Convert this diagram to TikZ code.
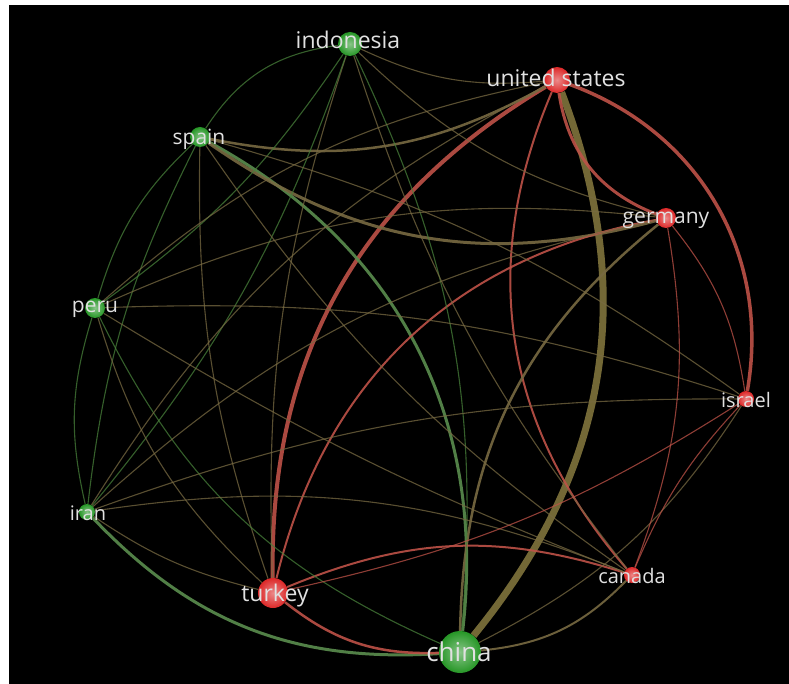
\documentclass[tikz,border=0pt]{standalone}
\usepackage{fontspec}
\setmainfont{Open Sans}
\definecolor{leaf}{RGB}{38,150,38}
\definecolor{ember}{RGB}{220,40,40}
\definecolor{gg}{RGB}{72,128,58}
\definecolor{rr}{RGB}{190,82,72}
\definecolor{gr}{RGB}{120,106,66}
\definecolor{trunk}{RGB}{128,116,60}
\definecolor{labeltext}{RGB}{225,225,225}
\pgfdeclarelayer{edges}
\pgfsetlayers{edges,main}

\begin{document}
\begin{tikzpicture}[x=1pt, y=-1pt,
    gnode/.style={circle, inner sep=0pt, minimum size=#1, inner color=leaf!55!white, outer color=leaf},
    rnode/.style={circle, inner sep=0pt, minimum size=#1, inner color=ember!55!white, outer color=ember},
    tag/.style={text=labeltext, inner sep=0pt, font=\fontsize{#1}{#1}\selectfont},
    wire/.style={line width=#1, opacity=0.9},
]
    \useasboundingbox (0, 0) rectangle (789, 684);

    % countries
    \node[gnode=24] (ind) at (350, 44) {};
    \node[rnode=26] (us) at (557, 80) {};
    \node[gnode=20] (spa) at (200, 137) {};
    \node[rnode=20] (ger) at (666, 218) {};
    \node[gnode=20] (per) at (95, 308) {};
    \node[rnode=16] (isr) at (746, 399) {};
    \node[gnode=16] (ira) at (87, 512) {};
    \node[rnode=30] (tur) at (273, 593) {};
    \node[rnode=16] (can) at (632, 575) {};
    \node[gnode=42] (chi) at (460, 652) {};

    \node[tag=23] (ind-t) at (348, 40) {indonesia};
    \node[tag=23] (us-t) at (556, 78) {united states};
    \node[tag=21] (spa-t) at (199, 139) {spain};
    \node[tag=21] (ger-t) at (666, 220) {germany};
    \node[tag=21] (per-t) at (95, 309) {peru};
    \node[tag=20] (isr-t) at (746, 400) {israel};
    \node[tag=20] (ira-t) at (88, 513) {iran};
    \node[tag=23] (tur-t) at (275, 596) {turkey};
    \node[tag=20] (can-t) at (632, 576) {canada};
    \node[tag=26] (chi-t) at (459, 652) {china};

    \begin{pgfonlayer}{edges}
        \fill[white] (0, 0) rectangle (789, 684);
        \fill[black] (9, 5) rectangle (789, 684);

        % heavy links
        \draw[wire=7, trunk] (us) to[bend left=30] (chi);
        \draw[wire=4, rr] (us) to[bend right=30] (tur);
        \draw[wire=3.5, rr] (us) to[bend left=40] (isr);
        \draw[wire=3, rr] (us) to[bend right=30] (ger);
        \draw[wire=3, gg!90!white] (spa) to[bend left=34] (chi);
        \draw[wire=3, gg!90!white] (ira) to[bend right=25] (chi);
        \draw[wire=2.5, rr] (tur) to[bend right=20] (chi);
        \draw[wire=3, gr] (spa) to[bend right=25] (ger);
        \draw[wire=2.5, gr] (spa) to[bend right=20] (us);
        \draw[wire=2, rr] (ger) to[bend right=33] (tur);
        \draw[wire=2, rr] (us) to[bend right=32] (can);
        \draw[wire=2.5, gr] (chi) to[bend left=25] (ger);
        \draw[wire=2, rr] (tur) to[bend left=20] (can);
        \draw[wire=2, gr] (chi) to[bend right=20] (can);

        % light links
        \foreach \a/\b/\c/\k in {ind/spa/gg/-25, ind/us/gr/-15, ind/chi/gg/15,
                ind/tur/gr/-10, ind/can/gr/-10, ind/ger/gr/-15, ind/ira/gg/10,
                ind/per/gg/10, spa/per/gg/-15, spa/ira/gg/-10, spa/tur/gr/-10,
                spa/can/gr/-10, spa/isr/gr/10, per/ira/gg/-15, per/chi/gg/-20,
                per/tur/gr/-15, per/isr/gr/10, per/can/gr/-5, per/ger/gr/15,
                per/us/gr/15, ira/ger/gr/15, ira/isr/gr/10, ira/tur/gr/-10,
                ira/us/gr/15, ira/can/gr/15, chi/isr/gr/-15, tur/isr/rr/-10,
                can/isr/rr/10, ger/isr/rr/15, ger/can/rr/15}
            \draw[wire=1.1, \c, opacity=0.75] (\a) to[bend left=\k] (\b);
    \end{pgfonlayer}
\end{tikzpicture}
\end{document}
